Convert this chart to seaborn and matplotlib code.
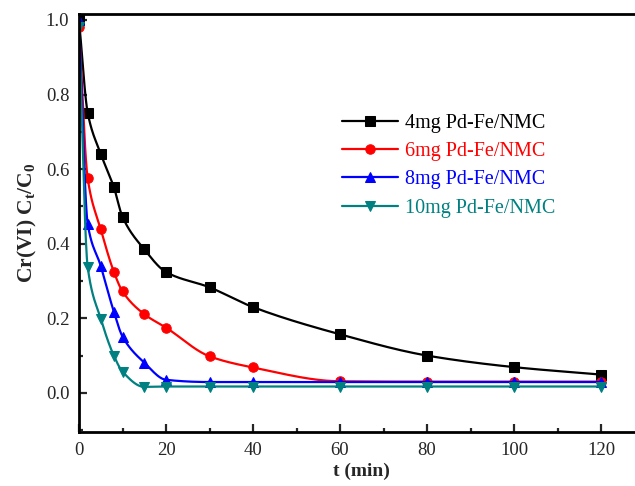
import numpy as np
import pandas as pd
import matplotlib
matplotlib.use("Agg")
import matplotlib.pyplot as plt
import seaborn as sns
from matplotlib.ticker import MultipleLocator

# ---- data ----
t_min = [0, 2, 5, 8, 10, 15, 20, 30, 40, 60, 80, 100, 120]
labels = ["4mg Pd-Fe/NMC", "6mg Pd-Fe/NMC", "8mg Pd-Fe/NMC", "10mg Pd-Fe/NMC"]
c_4mg = [1.00, 0.751, 0.641, 0.552, 0.472, 0.385, 0.324, 0.283, 0.230, 0.157, 0.100, 0.069, 0.049]
c_6mg = [0.98, 0.575, 0.439, 0.325, 0.272, 0.211, 0.175, 0.098, 0.068, 0.031, 0.030, 0.030, 0.030]
c_8mg = [1.00, 0.453, 0.340, 0.218, 0.151, 0.081, 0.035, 0.029, 0.029, 0.029, 0.029, 0.029, 0.029]
c_10mg = [0.98, 0.337, 0.199, 0.100, 0.057, 0.016, 0.017, 0.017, 0.017, 0.017, 0.017, 0.017, 0.017]
series = [c_4mg, c_6mg, c_8mg, c_10mg]
colors = ["#000000", "#ff0000", "#0000ff", "#008080"]
markers = ["s", "o", "^", "v"]


def pchip(x, y, n=20):
    """Monotone cubic curve through the data points (for drawing the smooth line)."""
    x = np.asarray(x, float); y = np.asarray(y, float)
    h = np.diff(x); d = np.diff(y) / h
    m = np.zeros_like(y)
    for k in range(1, len(x) - 1):
        if d[k - 1] * d[k] > 0:
            w1 = 2 * h[k] + h[k - 1]; w2 = h[k] + 2 * h[k - 1]
            m[k] = (w1 + w2) / (w1 / d[k - 1] + w2 / d[k])
    m[0] = d[0]; m[-1] = d[-1]
    xs, ys, idx = [], [], []
    for k in range(len(x) - 1):
        tt = np.linspace(0, 1, n, endpoint=False)
        hk = h[k]
        h00 = 2 * tt**3 - 3 * tt**2 + 1; h10 = tt**3 - 2 * tt**2 + tt
        h01 = -2 * tt**3 + 3 * tt**2; h11 = tt**3 - tt**2
        idx.append(len(xs))
        xs.extend(x[k] + tt * hk)
        ys.extend(h00 * y[k] + h10 * hk * m[k] + h01 * y[k + 1] + h11 * hk * m[k + 1])
    idx.append(len(xs)); xs.append(x[-1]); ys.append(y[-1])
    return np.array(xs), np.array(ys), idx


sns.set_theme(style="white")
plt.rcParams["font.family"] = ["Liberation Serif", "DejaVu Serif"]
plt.rcParams["mathtext.fontset"] = "custom"
plt.rcParams["mathtext.rm"] = "Liberation Serif"
plt.rcParams["mathtext.it"] = "Liberation Serif:italic"
plt.rcParams["mathtext.bf"] = "Liberation Serif:bold"

fig = plt.figure(figsize=(6.35, 4.86), dpi=100)
ax = fig.add_axes([79 / 635, 1 - 432 / 486, (130 * 4.35) / 635, (432 - 14) / 486])

for ys, lab, col, mk in zip(series, labels, colors, markers):
    xd, yd, idx = pchip(t_min, ys)
    sns.lineplot(x=xd, y=yd, color=col, marker=mk, markevery=idx, markersize=6.8,
                 markeredgecolor=col, markerfacecolor=col, linewidth=1.6,
                 label=lab, ax=ax, sort=False, estimator=None)

ax.set_xlim(0, 130)
ax.set_ylim(-0.105, 1.016)
ax.xaxis.set_major_locator(MultipleLocator(20))
ax.xaxis.set_minor_locator(MultipleLocator(10))
ax.yaxis.set_major_locator(MultipleLocator(0.2))
ax.yaxis.set_minor_locator(MultipleLocator(0.1))
ax.set_xticks([0, 20, 40, 60, 80, 100, 120])
ax.set_yticks([0.0, 0.2, 0.4, 0.6, 0.8, 1.0])
ax.set_yticklabels(["0.0", "0.2", "0.4", "0.6", "0.8", "1.0"])
ax.tick_params(which="both", direction="in", labelsize=13.5, width=1.6,
               bottom=True, left=True, top=False, right=False)
ax.tick_params(which="major", length=6, pad=7)
ax.tick_params(which="minor", length=3)
for s in ax.spines.values():
    s.set_linewidth(2)
    s.set_color("black")

ax.set_xlabel("t (min)", fontsize=14, fontweight="bold", labelpad=3)
ax.set_ylabel(r"Cr(VI) C$_\mathbf{t}$/C$_\mathbf{0}$", fontsize=15.5, fontweight="bold", labelpad=5)

leg = ax.legend(loc="upper left", bbox_to_anchor=(332 / 635, 1 - 104 / 486),
                bbox_transform=fig.transFigure, frameon=False, fontsize=14.5,
                handlelength=2.8, labelspacing=0.45, borderpad=0, handletextpad=0.3)
for txt, col in zip(leg.get_texts(), colors):
    txt.set_color(col)

fig.savefig("out.png", dpi=100)
